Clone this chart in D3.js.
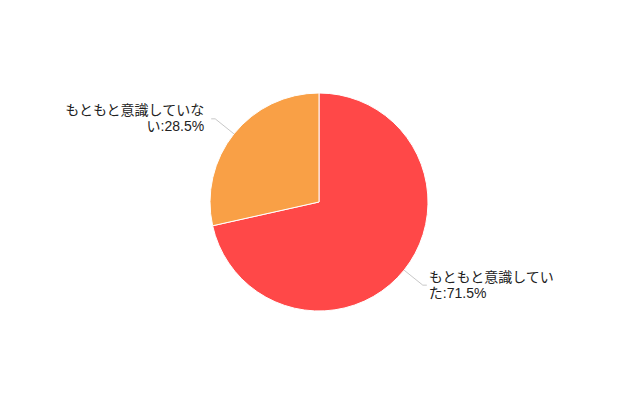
<!DOCTYPE html>
<html><head><meta charset="utf-8">
<script src="https://cdn.jsdelivr.net/npm/d3@7"></script>
<style>body{margin:0;background:#fff}</style>
</head><body><svg id="c" width="640" height="400"></svg>
<script>
const categories = ["もともと意識していた", "もともと意識していない"];
const values = [71.5, 28.5];
const labelLines = [["もともと意識してい", "た:71.5%"], ["もともと意識していな", "い:28.5%"]];
const colors = ["#FF4848", "#F9A046"];

const svg = d3.select("#c");
const cx = 319, cy = 202, r = 109;
const g = svg.append("g").attr("transform", `translate(${cx},${cy})`);
const pie = d3.pie().sort(null).value(d => d)(values);
const arc = d3.arc().innerRadius(0).outerRadius(r);
g.selectAll("path").data(pie).enter().append("path")
  .attr("d", arc).attr("fill", (d, i) => colors[i])
  .attr("stroke", "#fff").attr("stroke-width", 1);

const font = "'Liberation Sans', 'Noto Sans CJK JP', sans-serif";
pie.forEach((d, i) => {
  const a = (d.startAngle + d.endAngle) / 2;
  const p0 = [r * Math.sin(a), -r * Math.cos(a)];
  const p1 = [(r + 24) * Math.sin(a), -(r + 24) * Math.cos(a)];
  const right = Math.sin(a) > 0;
  const p2 = [p1[0] + (right ? 4 : -4), p1[1]];
  g.append("polyline").attr("points", [p0, p1, p2].map(p => p.join(",")).join(" "))
    .attr("fill", "none").attr("stroke", "#c8c8c8").attr("stroke-width", 1);
  const tx = p2[0] + (right ? 2 : -7);
  const y0 = right ? p1[1] - 3 : p1[1] - 4;
  labelLines[i].forEach((s, j) => {
    g.append("text").attr("font-family", font).attr("font-size", 14)
      .attr("fill", "#222").attr("text-anchor", right ? "start" : "end")
      .attr("x", tx).attr("y", y0 + j * 16).text(s);
  });
});
</script></body></html>
